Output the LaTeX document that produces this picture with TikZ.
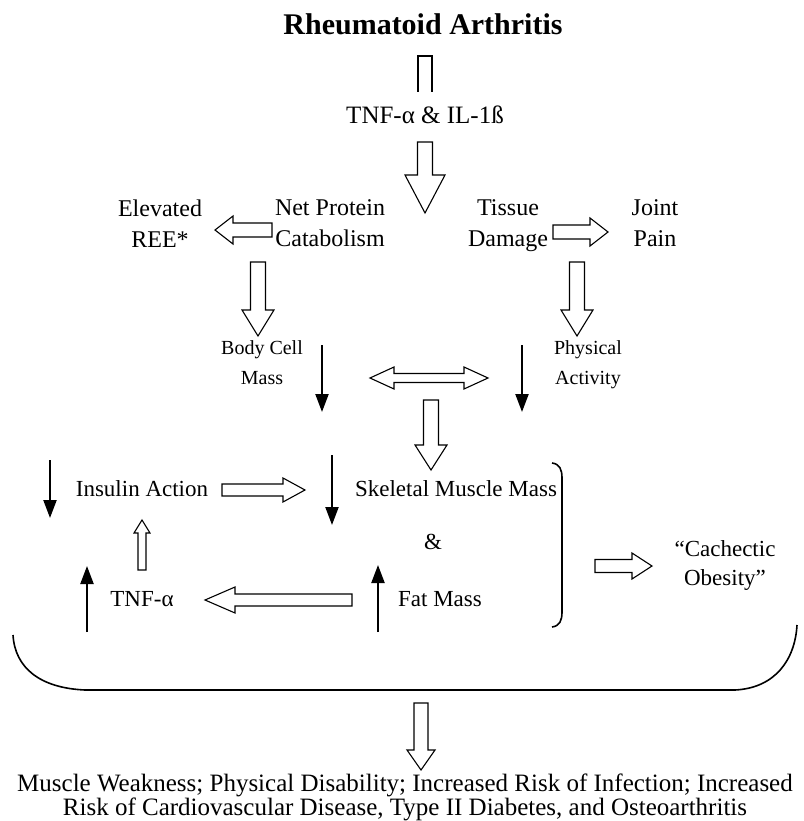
\documentclass[tikz,border=0pt]{standalone}
\usepackage{fontspec}
\setmainfont{Liberation Serif}
\usetikzlibrary{calc,arrows.meta}
\newcommand{\blockarr}[5]{%
  \draw[blockarrow] ($(#1)!#3!90:(#2)$) -- ($(#2)!#5!(#1)!#3!90:(#2)$) -- ($(#2)!#5!(#1)!#4!90:(#2)$) -- (#2)
    -- ($(#2)!#5!(#1)!#4!-90:(#2)$) -- ($(#2)!#5!(#1)!#3!-90:(#2)$) -- ($(#1)!#3!-90:(#2)$) -- cycle;}
\newcommand{\dblarr}[5]{%
  \draw[blockarrow] (#1) -- ($(#1)!#5!(#2)!#4!90:(#2)$) -- ($(#1)!#5!(#2)!#3!90:(#2)$)
    -- ($(#2)!#5!(#1)!#3!-90:(#1)$) -- ($(#2)!#5!(#1)!#4!-90:(#1)$) -- (#2)
    -- ($(#2)!#5!(#1)!#4!90:(#1)$) -- ($(#2)!#5!(#1)!#3!90:(#1)$)
    -- ($(#1)!#5!(#2)!#3!-90:(#2)$) -- ($(#1)!#5!(#2)!#4!-90:(#2)$) -- cycle;}
\begin{document}
\begin{tikzpicture}[x=1pt,y=-1pt,
  txt/.style={font=\fontsize{24}{31}\selectfont,align=center,inner sep=0pt,
    execute at begin node=\strut,execute at end node=\strut},
  smalltxt/.style={font=\fontsize{20}{30}\selectfont,align=center,inner sep=0pt,
    execute at begin node=\strut,execute at end node=\strut},
  blockarrow/.style={draw=black,fill=white,line width=1.1pt,line join=miter},
  blackarr/.style={line width=2.2pt,-{Triangle[width=13pt,length=18pt]}},
  curve/.style={line width=1.6pt},
]
\useasboundingbox (0,0) rectangle (803,821);
\fill[white] (0,0) rectangle (803,821);

% title
\node[font=\fontsize{30}{36}\selectfont\bfseries,inner sep=0pt] (ra) at (423,24) {Rheumatoid Arthritis};
\coordinate (u1) at (425,92);
\coordinate (u2) at (425,56);
\draw[line width=1.1pt] ($(u1)+(-7,0)$) -- ($(u2)+(-7,0)$) -- ($(u2)+(7,0)$) -- ($(u1)+(7,0)$);

\node[txt,font=\fontsize{25}{30}\selectfont] (tnf) at (425,118) {TNF-α \& IL-1ß};
\coordinate (a1s) at (425,142);
\coordinate (a1e) at (425,213);
\blockarr{a1s}{a1e}{7.5pt}{20pt}{38pt}

% row 1
\node[txt] (ree) at (160,228) {Elevated\\REE*};
\node[txt] (npc) at (330,228) {Net Protein\\Catabolism};
\node[txt] (td) at (508,228) {Tissue\\Damage};
\node[txt] (jp) at (655,228) {Joint\\Pain};
\coordinate (l1s) at (272,230);
\coordinate (l1e) at (215,230);
\blockarr{l1s}{l1e}{7pt}{14pt}{18pt}
\coordinate (r1s) at (553,232);
\coordinate (r1e) at (608,232);
\blockarr{r1s}{r1e}{7pt}{14pt}{18pt}
\coordinate (d1s) at (258,262);
\coordinate (d1e) at (258,336);
\blockarr{d1s}{d1e}{7.5pt}{16pt}{26pt}
\coordinate (d2s) at (577,262);
\coordinate (d2e) at (577,336);
\blockarr{d2s}{d2e}{7.5pt}{16pt}{26pt}

% row 2
\node[smalltxt] (bcm) at (262,367) {Body Cell\\Mass};
\node[smalltxt] (pa) at (588,367) {Physical\\Activity};
\coordinate (b1s) at (322,345);
\coordinate (b1e) at (322,412);
\draw[blackarr] (b1s) -- (b1e);
\coordinate (b2s) at (522,345);
\coordinate (b2e) at (522,412);
\draw[blackarr] (b2s) -- (b2e);
\coordinate (dbl1) at (370,378);
\coordinate (dbl2) at (488,378);
\dblarr{dbl1}{dbl2}{4.5pt}{11pt}{24pt}
\coordinate (d3s) at (431,400);
\coordinate (d3e) at (431,470);
\blockarr{d3s}{d3e}{7.5pt}{16pt}{25pt}

% row 3
\node[txt,font=\fontsize{23}{30}\selectfont] (ia) at (142,490) {Insulin Action};
\coordinate (b3s) at (50,460);
\coordinate (b3e) at (50,518);
\draw[blackarr] (b3s) -- (b3e);
\coordinate (r2s) at (222,490);
\coordinate (r2e) at (305,490);
\blockarr{r2s}{r2e}{6pt}{12pt}{22pt}
\node[txt,font=\fontsize{23}{30}\selectfont] (smm) at (456,490) {Skeletal Muscle Mass};
\coordinate (b4s) at (332,455);
\coordinate (b4e) at (332,525);
\draw[blackarr] (b4s) -- (b4e);
\node[txt,font=\fontsize{23}{30}\selectfont] (amp) at (433,543) {\&};
\draw[curve] (552,463) .. controls (560,464) and (562,470) .. (562,478) -- (562,612) .. controls (562,620) and (560,626) .. (552,627);
\coordinate (r3s) at (595,566);
\coordinate (r3e) at (652,566);
\blockarr{r3s}{r3e}{6.5pt}{13pt}{20pt}
\node[txt,font=\fontsize{23}{29}\selectfont] (co) at (725,567) {“Cachectic\\Obesity”};

% row 4
\coordinate (u3s) at (142,570);
\coordinate (u3e) at (142,520);
\blockarr{u3s}{u3e}{4pt}{8pt}{13pt}
\node[txt,font=\fontsize{23}{30}\selectfont] (tnf2) at (142,600) {TNF-α};
\coordinate (b5s) at (87,632);
\coordinate (b5e) at (87,566);
\draw[blackarr] (b5s) -- (b5e);
\coordinate (l2s) at (352,600);
\coordinate (l2e) at (205,600);
\blockarr{l2s}{l2e}{6pt}{13pt}{30pt}
\node[txt,font=\fontsize{23}{30}\selectfont] (fm) at (440,600) {Fat Mass};
\coordinate (b6s) at (378,632);
\coordinate (b6e) at (378,565);
\draw[blackarr] (b6s) -- (b6e);

% big brace
\draw[curve] (13,635) .. controls (15,668) and (40,688) .. (85,690) -- (735,690) .. controls (775,688) and (795,660) .. (797,625);

\coordinate (d4s) at (421,703);
\coordinate (d4e) at (421,770);
\blockarr{d4s}{d4e}{7pt}{14pt}{20pt}

\node[font=\fontsize{25}{22}\selectfont,align=center,inner sep=0pt] (out) at (405,797) {Muscle Weakness; Physical Disability; Increased Risk of Infection; Increased\\Risk of Cardiovascular Disease, Type II Diabetes, and Osteoarthritis};
\end{tikzpicture}
\end{document}
